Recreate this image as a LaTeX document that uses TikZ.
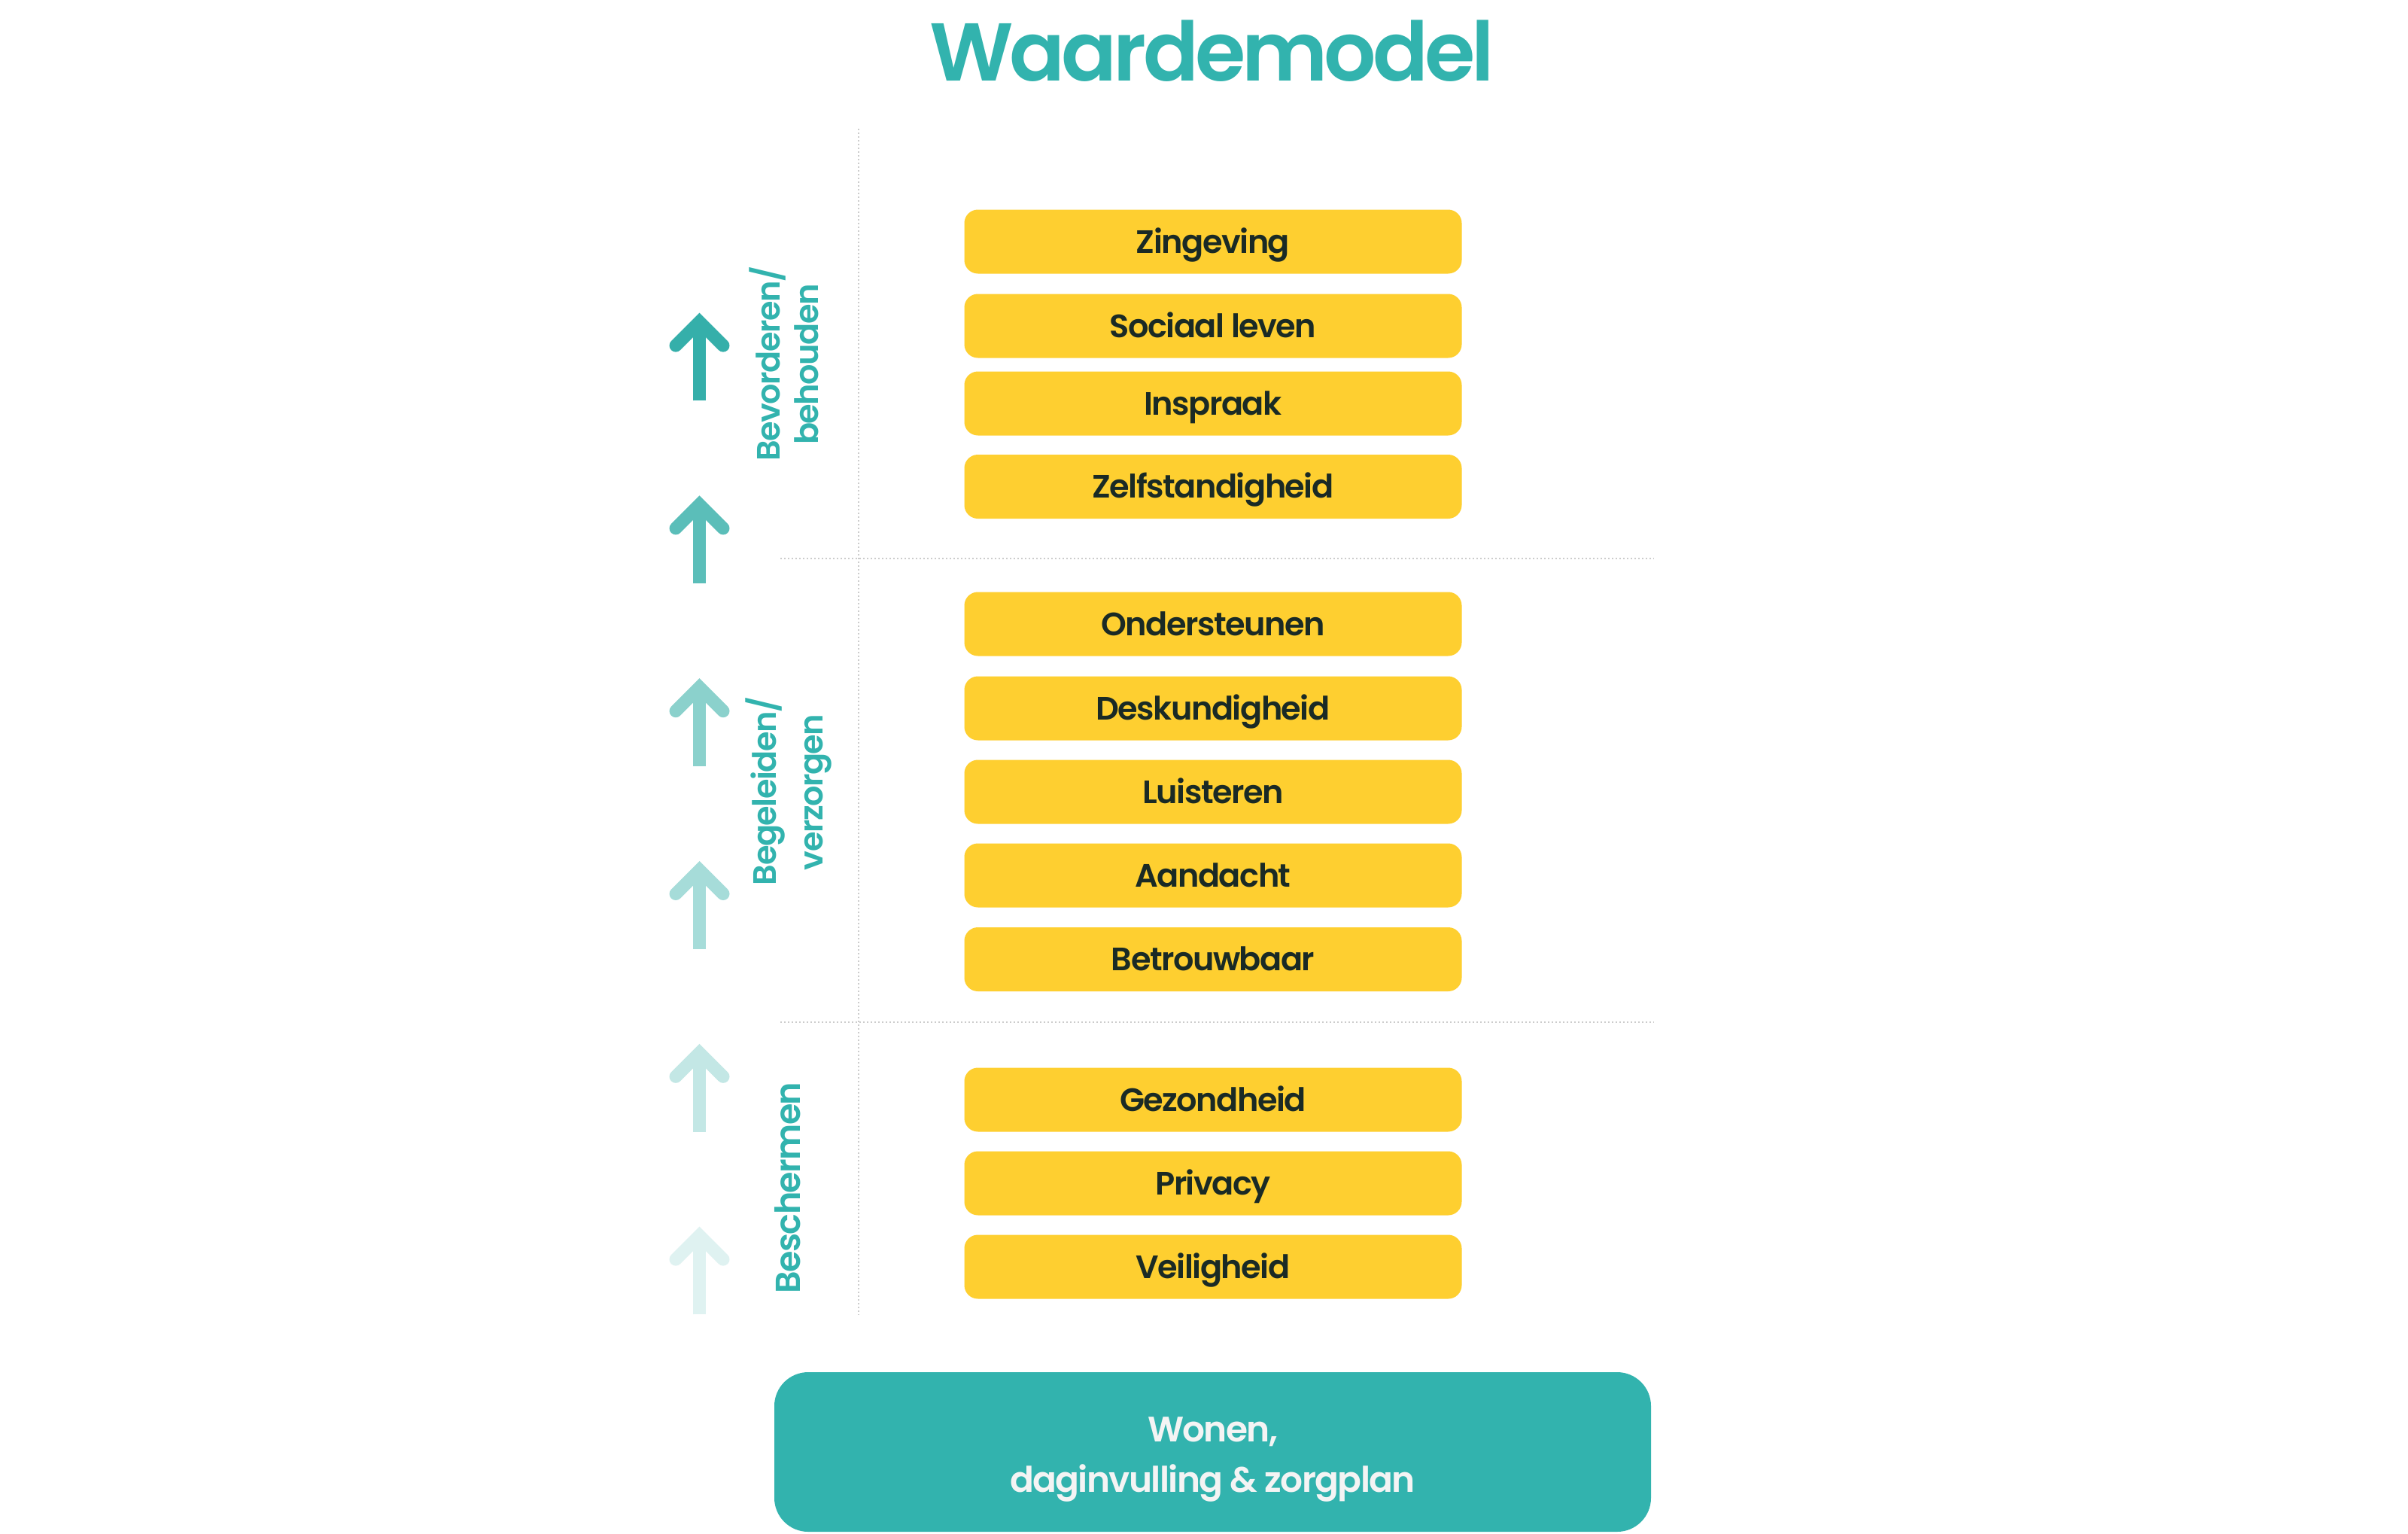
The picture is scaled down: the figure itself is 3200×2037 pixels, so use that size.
\documentclass[tikz,border=0pt]{standalone}
\usepackage{fontspec}
\setmainfont{Poppins}
\newfontfamily\popsb{Poppins SemiBold}[LetterSpace=-3.5]
\newfontfamily\popsbt{Poppins SemiBold}[LetterSpace=-4.5]
\definecolor{teal}{HTML}{32B3AE}
\definecolor{ylw}{HTML}{FECF30}
\definecolor{darktxt}{HTML}{1A2A25}
\definecolor{offwhite}{HTML}{F4F4F4}
\definecolor{gridgrey}{HTML}{CCCCCC}
\definecolor{arA}{HTML}{35AFAA}
\definecolor{arB}{HTML}{5BBEB9}
\definecolor{arC}{HTML}{8BD1CC}
\definecolor{arD}{HTML}{A6DCD9}
\definecolor{arE}{HTML}{C3E7E5}
\definecolor{arF}{HTML}{DFF2F1}
\newcommand\myuparrow[2]{%
  \draw[line width=17pt, line cap=round, line join=miter, draw=#2]
    (898,#1+43.5) -- (929.5,#1+12) -- (961,#1+43.5);
  \draw[line width=17pt, line cap=butt, draw=#2] (929.5,#1+116.7) -- (929.5,#1+12);
}
\tikzset{
  ybox/.style={fill=ylw, draw=none, rounded corners=18pt, minimum width=661pt,
    minimum height=85pt, inner sep=0pt, text=darktxt, text height=30pt, text depth=0pt,
    font=\popsb\fontsize{43}{50}\selectfont},
  sidelbl/.style={rotate=90, anchor=base, text=teal, inner sep=0pt,
    font=\popsb\fontsize{43}{50}\selectfont},
  gridline/.style={draw=gridgrey, line width=1.6pt, dash pattern=on 1.6pt off 3.4pt},
}
\begin{document}
\begin{tikzpicture}[x=1pt, y=-1pt]
\useasboundingbox[fill=white] (0,0) rectangle (3200,2037);
% title
\node[anchor=base, text=teal, inner sep=0pt, font=\popsbt\fontsize{109}{120}\selectfont]
  (title) at (1610.5,107.3) {Waardemodel};
% grid lines
\coordinate (vtop) at (1141,171);
\coordinate (vbot) at (1141,1747);
\coordinate (h1l) at (1037,742);
\coordinate (h1r) at (2198,742);
\coordinate (h2l) at (1037,1358);
\coordinate (h2r) at (2198,1358);
\draw[gridline] (vtop) -- (vbot);
\draw[gridline] (h1l) -- (h1r);
\draw[gridline] (h2l) -- (h2r);
% arrows
\myuparrow{415.6}{arA}
\myuparrow{658.4}{arB}
\myuparrow{901.2}{arC}
\myuparrow{1144}{arD}
\myuparrow{1386.8}{arE}
\myuparrow{1629.6}{arF}
% side labels
\node[sidelbl] (bev) at (1036.7,483.3) {Bevorderen/};
\node[sidelbl] (beh) at (1087.7,484) {behouden};
\node[sidelbl] (beg) at (1031.7,1051) {Begeleiden/};
\node[sidelbl] (ver) at (1093,1052.5) {verzorgen};
\node[sidelbl, font=\popsb\fontsize{46}{54}\selectfont] (bes) at (1063.3,1578) {Beschermen};
% value boxes
\node[ybox] (b1) at (1612,321) {Zingeving};
\node[ybox] (b2) at (1612,433) {Sociaal leven};
\node[ybox] (b3) at (1612,536) {Inspraak};
\node[ybox] (b4) at (1612,646.5) {Zelfstandigheid};
\node[ybox] (b5) at (1612,829) {Ondersteunen};
\node[ybox] (b6) at (1612,941) {Deskundigheid};
\node[ybox] (b7) at (1612,1052) {Luisteren};
\node[ybox] (b8) at (1612,1163) {Aandacht};
\node[ybox] (b9) at (1612,1274.5) {Betrouwbaar};
\node[ybox] (b10) at (1612,1461) {Gezondheid};
\node[ybox] (b11) at (1612,1572) {Privacy};
\node[ybox] (b12) at (1612,1683) {Veiligheid};
% base box
\node[fill=teal, draw=none, rounded corners=45pt, minimum width=1165pt, minimum height=212pt,
  inner sep=0pt] (base) at (1611.5,1929) {};
\node[anchor=base, text=offwhite, inner sep=0pt, font=\popsb\fontsize{47}{56}\selectfont]
  (basel1) at (1611.5,1915.7) {Wonen,};
\node[anchor=base, text=offwhite, inner sep=0pt, font=\popsb\fontsize{47}{56}\selectfont]
  (basel2) at (1611.5,1982) {daginvulling \& zorgplan};
\end{tikzpicture}
\end{document}
